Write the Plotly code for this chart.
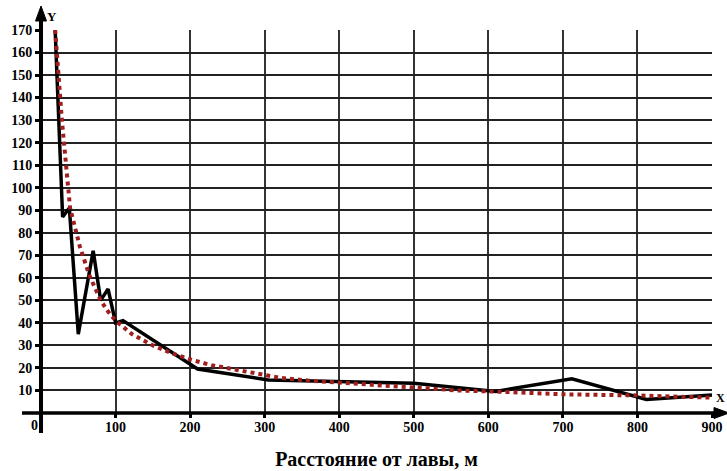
import plotly.graph_objects as go

# Measured series (black line)
dist_meas = [19, 29, 38, 50, 70, 80, 90, 100, 110, 210, 305, 500, 610, 712, 812, 900]
val_meas = [170, 87, 91, 35, 72, 50, 55, 40, 41, 19.5, 14.7, 13.2, 9.6, 15.2, 6.0, 8.0]

# Trend series (red dotted)
dist_trend = [19, 28, 39, 52, 65, 80, 90, 100, 122, 150, 176, 203, 229, 270, 321, 358,
              401, 505, 560, 620, 700, 800, 900]
val_trend = [170, 130, 91, 74, 61, 50, 45, 41, 35, 30, 26.4, 23.5, 21.2, 18.6, 15.6, 14.4,
             13.4, 11.2, 10.0, 9.4, 8.3, 7.8, 6.8]

x_ticks = [100, 200, 300, 400, 500, 600, 700, 800, 900]
y_ticks = list(range(10, 171, 10))
x_title = "Расстояние от лавы, м"

W, H = 727, 471
L, R, T, B = 41, 15, 30, 58
PW, PH = W - L - R, H - T - B


def px(xp):
    return (xp - L) / PW


def py(yp):
    return (H - B - yp) / PH


FONT = "Liberation Serif"

fig = go.Figure()
fig.add_trace(go.Scatter(x=dist_meas, y=val_meas, mode="lines",
                         line=dict(color="black", width=3.5), showlegend=False))
fig.add_trace(go.Scatter(x=dist_trend, y=val_trend, mode="lines",
                         line=dict(color="#a01e1e", width=4, dash="dot"), showlegend=False))

shapes = [
    # x axis line with overshoot
    dict(type="line", xref="paper", yref="paper", x0=px(22), x1=px(718), y0=0, y1=0,
         line=dict(color="black", width=3.5), layer="above"),
    # y axis line with overshoot
    dict(type="line", xref="paper", yref="paper", x0=0, x1=0, y0=py(433), y1=py(18),
         line=dict(color="black", width=4), layer="above"),
    # y arrow head
    dict(type="path", xref="paper", yref="paper",
         path=f"M {px(41)} {py(6)} L {px(35.5)} {py(21)} L {px(46.5)} {py(21)} Z",
         fillcolor="black", line=dict(color="black", width=1), layer="above"),
    # x arrow head
    dict(type="path", xref="paper", yref="paper",
         path=f"M {px(729)} {py(413)} L {px(714)} {py(407.5)} L {px(714)} {py(418.5)} Z",
         fillcolor="black", line=dict(color="black", width=1), layer="above"),
]

annotations = [
    dict(text="<b>0</b>", xref="paper", yref="paper", x=px(34), y=py(425), showarrow=False,
         xanchor="center", yanchor="middle",
         font=dict(family=FONT, size=14, color="black")),
    dict(text="<b>Y</b>", xref="paper", yref="paper", x=px(52), y=py(17), showarrow=False,
         xanchor="center", yanchor="middle",
         font=dict(family=FONT, size=13, color="black")),
    dict(text="<b>X</b>", xref="paper", yref="paper", x=px(727), y=py(398), showarrow=False,
         xanchor="right", yanchor="middle", font=dict(family=FONT, size=12, color="black")),
]

fig.update_layout(
    width=W, height=H,
    margin=dict(l=L, r=R, t=T, b=B, pad=0),
    paper_bgcolor="white", plot_bgcolor="white",
    shapes=shapes, annotations=annotations,
    xaxis=dict(range=[0, 900], tickvals=x_ticks, ticktext=[f"<b>{v}</b>" for v in x_ticks],
               showgrid=True, gridcolor="#333333", gridwidth=1.5, zeroline=False,
               showline=False, ticks="outside", ticklen=4, tickwidth=3, tickcolor="black",
               ticklabelstandoff=-3,
               tickfont=dict(family=FONT, size=14, color="black"),
               title=dict(text=f"<b>{x_title}</b>", font=dict(family=FONT, size=20, color="black"),
                          standoff=18),
               automargin=False, fixedrange=True),
    yaxis=dict(range=[0, 170], tickvals=y_ticks, ticktext=[f"<b>{v}</b>" for v in y_ticks],
               showgrid=True, gridcolor="#222222", gridwidth=1.5, zeroline=False,
               showline=False, ticks="outside", ticklen=5, tickwidth=3, tickcolor="black",
               tickfont=dict(family=FONT, size=14, color="black"),
               automargin=False, fixedrange=True),
)

fig.write_html("out.html")
